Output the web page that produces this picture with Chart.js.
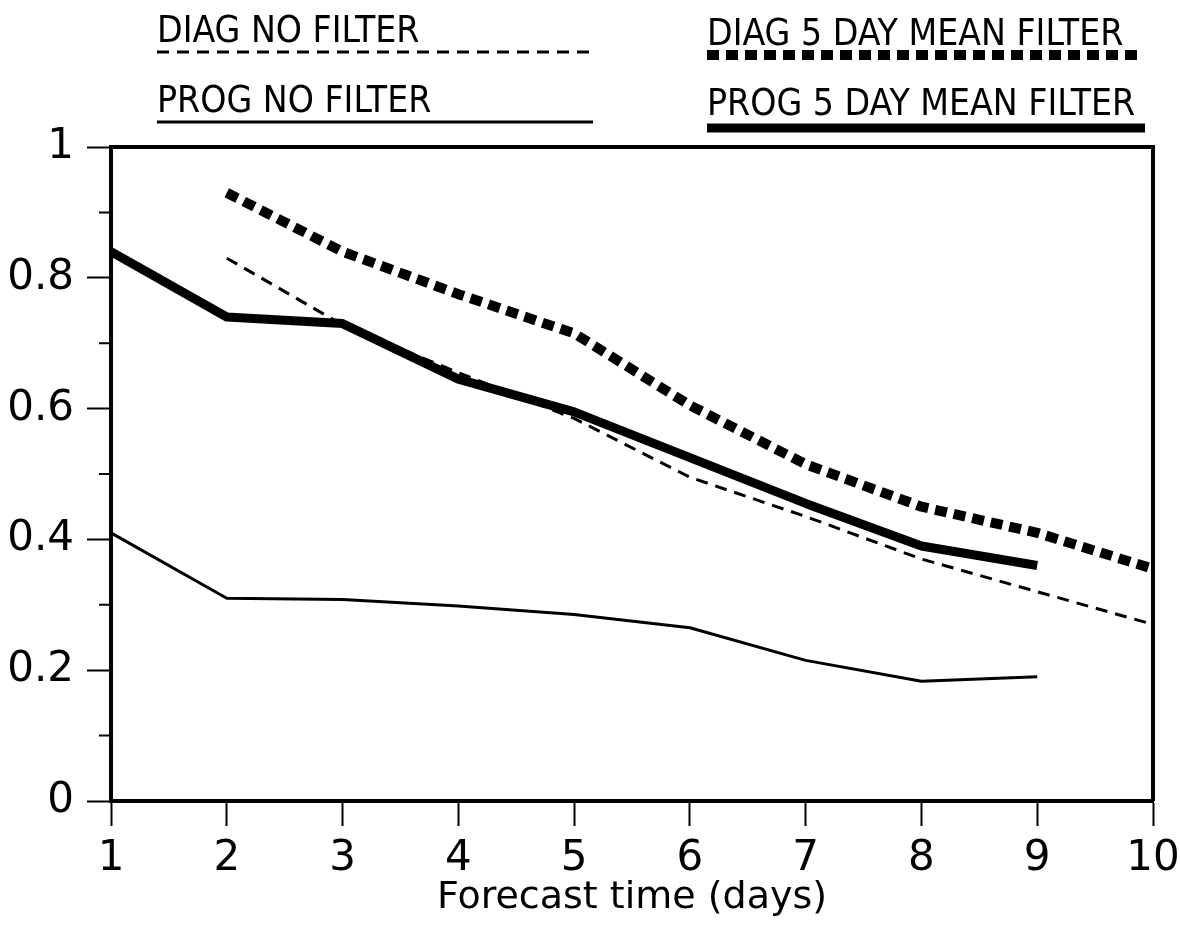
<!DOCTYPE html>
<html lang="en">
<head>
    <meta charset="UTF-8">
    <title>Forecast time skill</title>
    <script src="https://cdn.jsdelivr.net/npm/chart.js"></script>
    <style>
        body { margin: 0; background: #fff; }
        #wrap { width: 1180px; height: 943px; }
    </style>
</head>
<body>
    <div id="wrap"><canvas id="myChart" width="1180" height="943"></canvas></div>

    <script>
        // values
        const days = ['1', '2', '3', '4', '5', '6', '7', '8', '9', '10'];
        const diagNoFilter   = [null, 0.83, 0.728, 0.655, 0.585, 0.495, 0.435, 0.37, 0.32, 0.27];
        const diagMeanFilter = [null, 0.93, 0.84, 0.775, 0.715, 0.605, 0.515, 0.45, 0.41, 0.355];
        const progNoFilter   = [0.41, 0.31, 0.308, 0.298, 0.285, 0.265, 0.215, 0.183, 0.19, null];
        const progMeanFilter = [0.84, 0.74, 0.73, 0.645, 0.595, 0.525, 0.455, 0.39, 0.36, null];
        const yTicks = [0, 0.2, 0.4, 0.6, 0.8, 1];
        const yMinorTicks = [0.1, 0.3, 0.5, 0.7, 0.9];

        const tickFont = { family: 'DejaVu Sans', size: 42 };

        // legend drawn above the plot: [dataset index, x, text baseline, line y, line end]
        const legendSlots = [
            [0, 157, 42, 52, 593],
            [1, 707, 45, 55, 1143],
            [2, 157, 112, 122, 593],
            [3, 707, 115, 128, 1145]
        ];

        const framePlugin = {
            id: 'frame',
            afterDraw(chart) {
                const { ctx, chartArea: a, scales } = chart;
                ctx.save();
                ctx.strokeStyle = '#000';
                ctx.lineWidth = 4;
                ctx.beginPath();
                ctx.moveTo(a.left, a.top);
                ctx.lineTo(a.right, a.top);
                ctx.lineTo(a.right, a.bottom);
                ctx.stroke();
                // minor ticks on y axis
                ctx.lineWidth = 2;
                ctx.beginPath();
                yMinorTicks.forEach(v => {
                    const y = scales.y.getPixelForValue(v);
                    ctx.moveTo(a.left - 12, y);
                    ctx.lineTo(a.left, y);
                });
                ctx.stroke();

                // legend
                ctx.font = '37px "Liberation Sans Narrow", "DejaVu Sans Condensed", sans-serif';
                ctx.fillStyle = '#000';
                ctx.textBaseline = 'alphabetic';
                legendSlots.forEach(([i, x, ty, ly, x2]) => {
                    const ds = chart.data.datasets[i];
                    ctx.fillText(ds.label, x, ty);
                    ctx.beginPath();
                    ctx.lineWidth = ds.borderWidth;
                    ctx.setLineDash(ds.borderDash || []);
                    ctx.lineCap = 'butt';
                    ctx.moveTo(x, ly);
                    ctx.lineTo(x2, ly);
                    ctx.stroke();
                    ctx.setLineDash([]);
                });
                ctx.restore();
            }
        };

        const ctx = document.getElementById('myChart').getContext('2d');
        new Chart(ctx, {
            type: 'line',
            data: {
                labels: days,
                datasets: [
                    {
                        label: 'DIAG NO FILTER',
                        data: diagNoFilter,
                        borderColor: '#000',
                        borderWidth: 3,
                        borderDash: [12, 8]
                    },
                    {
                        label: 'DIAG 5 DAY MEAN FILTER',
                        data: diagMeanFilter,
                        borderColor: '#000',
                        borderWidth: 10,
                        borderDash: [12, 7]
                    },
                    {
                        label: 'PROG NO FILTER',
                        data: progNoFilter,
                        borderColor: '#000',
                        borderWidth: 3
                    },
                    {
                        label: 'PROG 5 DAY MEAN FILTER',
                        data: progMeanFilter,
                        borderColor: '#000',
                        borderWidth: 9
                    }
                ]
            },
            options: {
                responsive: false,
                animation: false,
                layout: { padding: { top: 147, right: 0, left: 0, bottom: 0 } },
                elements: {
                    point: { radius: 0 },
                    line: { tension: 0, borderCapStyle: 'butt', borderJoinStyle: 'round', fill: false }
                },
                plugins: {
                    legend: { display: false },
                    tooltip: { enabled: false }
                },
                scales: {
                    x: {
                        type: 'category',
                        offset: false,
                        border: { color: '#000', width: 4 },
                        grid: { drawOnChartArea: false, drawTicks: true, tickLength: 25, tickColor: '#000', tickWidth: 2 },
                        ticks: { color: '#000', font: tickFont, padding: 8, maxRotation: 0, autoSkip: false },
                        title: {
                            display: true,
                            text: 'Forecast time (days)',
                            color: '#000',
                            font: { family: 'DejaVu Sans', size: 38 },
                            padding: { top: 0, bottom: 22 }
                        },
                        afterFit(scale) {
                            scale.height = 142;
                            scale.paddingRight = 27;
                            scale.paddingLeft = 0;
                        }
                    },
                    y: {
                        min: 0,
                        max: 1,
                        border: { color: '#000', width: 4 },
                        grid: { drawOnChartArea: false, drawTicks: true, tickLength: 24, tickColor: '#000', tickWidth: 2 },
                        afterBuildTicks(scale) { scale.ticks = yTicks.map(v => ({ value: v })); },
                        ticks: {
                            color: '#000',
                            font: tickFont,
                            padding: 13,
                            callback: v => String(Math.round(v * 10) / 10)
                        },
                        afterFit(scale) { scale.width = 111; }
                    }
                }
            },
            plugins: [framePlugin]
        });
    </script>
</body>
</html>
